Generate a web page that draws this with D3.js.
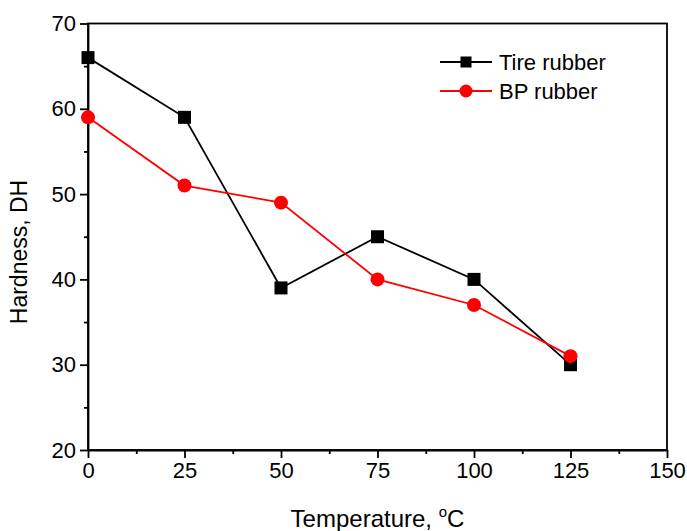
<!DOCTYPE html>
<html lang="en">
<head>
    <meta charset="UTF-8">
    <title>Hardness vs temperature</title>
    <script src="https://cdn.jsdelivr.net/npm/d3@7"></script>
    <style>
        body { margin: 0; background: #fff; }
        svg { display: block; }
        text { font-family: "Liberation Sans", Arial, sans-serif; fill: #000; }
    </style>
</head>
<body>
    <div id="wrap"></div>
    <script>
        // data
        var temps = [0, 25, 50, 75, 100, 125];
        var tireRubber = [66, 59, 39, 45, 40, 30];
        var bpRubber = [59, 51, 49, 40, 37, 31];
        var xTicks = [0, 25, 50, 75, 100, 125, 150];
        var yTicks = [20, 30, 40, 50, 60, 70];

        var WIDTH = 687, HEIGHT = 531;
        var margin = { left: 88, right: 20, top: 23.5, bottom: 81 };
        var SW = 1.8;

        var svg = d3.select('#wrap').append('svg')
            .attr('width', WIDTH).attr('height', HEIGHT);

        var x = d3.scaleLinear().domain([0, 150]).range([margin.left, WIDTH - margin.right]);
        var y = d3.scaleLinear().domain([20, 70]).range([HEIGHT - margin.bottom, margin.top]);

        // frame (top + right lines, no ticks)
        svg.append('rect')
            .attr('x', x(0)).attr('y', y(70))
            .attr('width', x(150) - x(0)).attr('height', y(20) - y(70))
            .attr('fill', 'none').attr('stroke', '#000').attr('stroke-width', SW);

        // minor ticks
        var xMinor = d3.range(12.5, 150, 25);
        var yMinor = d3.range(25, 70, 10);
        svg.append('g')
            .attr('transform', 'translate(0,' + y(20) + ')')
            .call(d3.axisBottom(x).tickValues(xMinor).tickSize(4).tickFormat(''))
            .call(function(g) { g.select('.domain').remove(); })
            .selectAll('line').attr('stroke-width', SW);
        svg.append('g')
            .attr('transform', 'translate(' + x(0) + ',0)')
            .call(d3.axisLeft(y).tickValues(yMinor).tickSize(4).tickFormat(''))
            .call(function(g) { g.select('.domain').remove(); })
            .selectAll('line').attr('stroke-width', SW);

        // major axes
        var xAxis = svg.append('g')
            .attr('transform', 'translate(0,' + y(20) + ')')
            .call(d3.axisBottom(x).tickValues(xTicks).tickSize(8).tickSizeOuter(0).tickPadding(4));
        var yAxis = svg.append('g')
            .attr('transform', 'translate(' + x(0) + ',0)')
            .call(d3.axisLeft(y).tickValues(yTicks).tickSize(8).tickSizeOuter(0).tickPadding(4));
        [xAxis, yAxis].forEach(function(g) {
            g.select('.domain').attr('stroke-width', SW);
            g.selectAll('line').attr('stroke-width', SW);
            g.selectAll('text').style('font-size', '22px').attr('fill', '#000');
        });

        // series
        var series = [
            { name: 'Tire rubber', values: tireRubber, color: '#000', shape: 'square' },
            { name: 'BP rubber', values: bpRubber, color: '#ff0000', shape: 'circle' }
        ];
        var line = d3.line()
            .x(function(d) { return x(d[0]); })
            .y(function(d) { return y(d[1]); });

        series.forEach(function(s) {
            var pts = temps.map(function(t, i) { return [t, s.values[i]]; });
            svg.append('path')
                .datum(pts)
                .attr('d', line)
                .attr('fill', 'none')
                .attr('stroke', s.color)
                .attr('stroke-width', SW);
        });
        series.forEach(function(s) {
            var pts = temps.map(function(t, i) { return [t, s.values[i]]; });
            var g = svg.append('g');
            if (s.shape === 'square') {
                g.selectAll('rect').data(pts).enter().append('rect')
                    .attr('x', function(d) { return x(d[0]) - 6.5; })
                    .attr('y', function(d) { return y(d[1]) - 6.5; })
                    .attr('width', 13).attr('height', 13)
                    .attr('fill', s.color);
            } else {
                g.selectAll('circle').data(pts).enter().append('circle')
                    .attr('cx', function(d) { return x(d[0]); })
                    .attr('cy', function(d) { return y(d[1]); })
                    .attr('r', 7)
                    .attr('fill', s.color);
            }
        });

        // legend
        var legend = svg.append('g').attr('class', 'legend').attr('transform', 'translate(440,62)');
        series.forEach(function(s, i) {
            var row = legend.append('g').attr('transform', 'translate(0,' + (i * 29) + ')');
            row.append('line').attr('x1', 0).attr('x2', 52).attr('y1', 0).attr('y2', 0)
                .attr('stroke', s.color).attr('stroke-width', SW);
            if (s.shape === 'square') {
                row.append('rect').attr('x', 26 - 5.5).attr('y', -5.5).attr('width', 11).attr('height', 11)
                    .attr('fill', s.color);
            } else {
                row.append('circle').attr('cx', 26).attr('cy', 0).attr('r', 6.5).attr('fill', s.color);
            }
            row.append('text').attr('x', 59).attr('y', 8)
                .style('font-size', '22px').text(s.name);
        });

        // axis titles
        var xt = svg.append('text')
            .attr('x', (x(0) + x(150)) / 2).attr('y', 527)
            .attr('text-anchor', 'middle')
            .style('font-size', '24px');
        xt.append('tspan').text('Temperature, ');
        xt.append('tspan').attr('dy', -10).style('font-size', '15px').text('o');
        xt.append('tspan').attr('dy', 10).text('C');

        svg.append('text')
            .attr('transform', 'translate(27,252) rotate(-90)')
            .attr('text-anchor', 'middle')
            .style('font-size', '23px')
            .text('Hardness, DH');
    </script>
</body>
</html>
